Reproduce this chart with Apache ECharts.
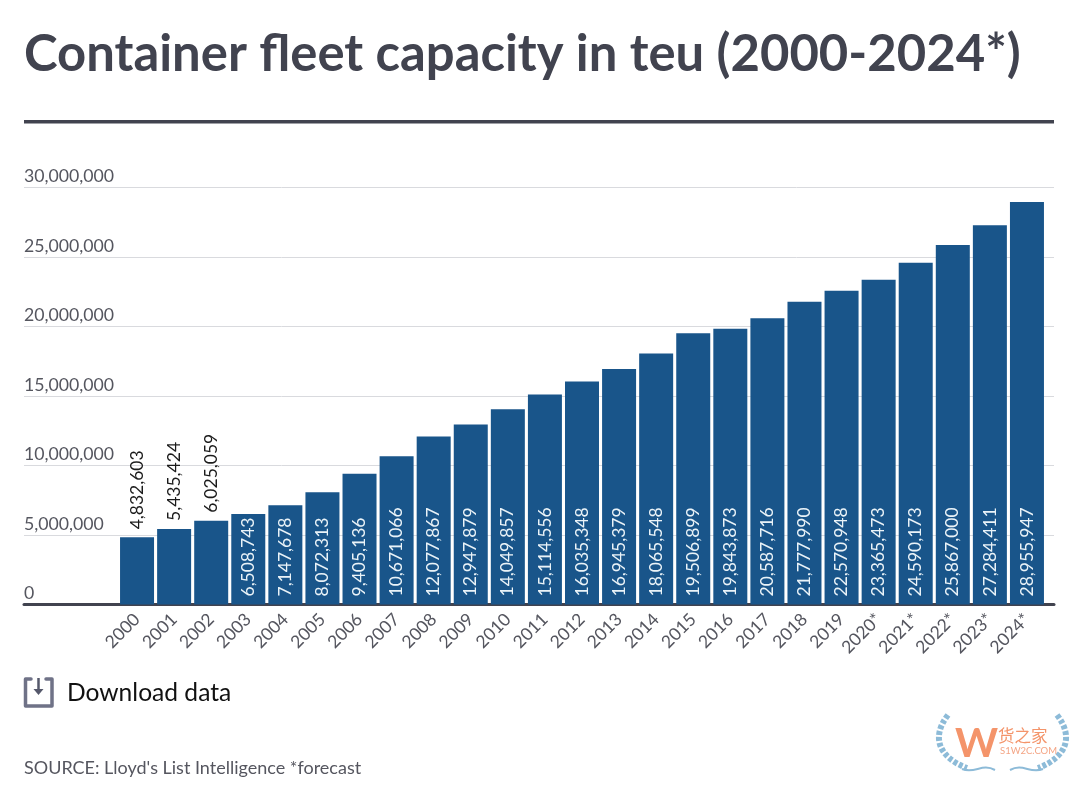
<!DOCTYPE html>
<html>
<head>
<meta charset="utf-8">
<title>Container fleet capacity</title>
<style>
  html, body { margin: 0; padding: 0; background: #fff; }
  #chart { width: 1080px; height: 787px; }
</style>
<script src="https://cdn.jsdelivr.net/npm/echarts@6/dist/echarts.min.js"></script>
</head>
<body>
<div id="chart"></div>
<script>
const years = ['2000', '2001', '2002', '2003', '2004', '2005', '2006', '2007', '2008', '2009', '2010', '2011', '2012',
  '2013', '2014', '2015', '2016', '2017', '2018', '2019', '2020*', '2021*', '2022*', '2023*', '2024*'];
const capacity = [4832603, 5435424, 6025059, 6508743, 7147678, 8072313, 9405136, 10671066, 12077867, 12947879,
  14049857, 15114556, 16035348, 16945379, 18065548, 19506899, 19843873, 20587716, 21777990, 22570948,
  23365473, 24590173, 25867000, 27284411, 28955947];
const titleText = 'Container fleet capacity in teu (2000-2024*)';
const sourceText = "SOURCE: Lloyd's List Intelligence *forecast";

const FONT = 'Lato';
const INK = '#41434f';
const BAR = '#19558a';

const fmt = (v) => v.toLocaleString('en-US');

// first three bars are too short, their labels go above the bar
const barData = capacity.map((v, i) => ({
  value: v,
  label: i < 3
    ? { position: 'top', color: '#1b1b1b', distance: 8 }
    : { position: 'insideBottom', color: '#eaf3f8', distance: 8 },
}));

const chart = echarts.init(document.getElementById('chart'));
chart.setOption({
  animation: false,
  backgroundColor: '#fff',
  textStyle: { fontFamily: FONT },
  title: {
    text: titleText,
    left: 19,
    top: 24,
    textStyle: { fontFamily: FONT, fontSize: 50.8, fontWeight: 'bold', color: INK },
  },
  // grid 0 carries gridlines and baseline across the full width, grid 1 the bars
  grid: [
    { left: 24, right: 26, top: 187.5, bottom: 182.5, containLabel: false },
    { left: 118.5, right: 34.5, top: 187.5, bottom: 182.5, containLabel: false },
  ],
  xAxis: [
    {
      type: 'category',
      gridIndex: 0,
      data: [''],
      axisLine: { show: true, lineStyle: { color: INK, width: 3 } },
      axisTick: { show: false },
      axisLabel: { show: false },
    },
    {
      type: 'category',
      gridIndex: 1,
      data: years,
      axisLine: { show: false },
      axisTick: { show: false },
      axisLabel: { rotate: 45, interval: 0, margin: 12, fontSize: 17.5, color: '#55565f', fontFamily: FONT },
    },
  ],
  yAxis: [
    {
      type: 'value',
      gridIndex: 0,
      min: 0,
      max: 30000000,
      interval: 5000000,
      axisLine: { show: false },
      axisTick: { show: false },
      splitLine: { lineStyle: { color: '#d9dade', width: 1 } },
      axisLabel: {
        inside: true,
        margin: 0,
        verticalAlign: 'bottom',
        padding: [0, 0, 2, 0],
        fontSize: 17.7,
        color: '#55565f',
        fontFamily: FONT,
        formatter: (v) => fmt(v),
      },
    },
    {
      type: 'value',
      gridIndex: 1,
      min: 0,
      max: 30000000,
      interval: 5000000,
      axisLine: { show: false },
      axisTick: { show: false },
      splitLine: { show: false },
      axisLabel: { show: false },
    },
  ],
  series: [
    {
      type: 'bar',
      xAxisIndex: 1,
      yAxisIndex: 1,
      data: barData,
      barWidth: 34,
      z: 5,
      itemStyle: { color: BAR },
      label: {
        show: true,
        rotate: 90,
        align: 'left',
        verticalAlign: 'middle',
        fontSize: 17.5,
        fontFamily: FONT,
        formatter: (p) => fmt(p.value),
      },
    },
  ],
  graphic: [
    // rule under the title
    { type: 'rect', shape: { x: 24, y: 120, width: 1030, height: 3.5 }, style: { fill: INK } },
    // download icon
    {
      type: 'polyline',
      shape: { points: [[31, 679], [25.5, 679], [25.5, 706], [52, 706], [52, 679], [46, 679]] },
      style: { stroke: '#6f7287', lineWidth: 3.5, fill: null, lineJoin: 'round', lineCap: 'round' },
    },
    { type: 'line', shape: { x1: 38.5, y1: 678, x2: 38.5, y2: 691 }, style: { stroke: '#55586b', lineWidth: 2.5 } },
    { type: 'polygon', shape: { points: [[33.5, 689], [43.5, 689], [38.5, 695]] }, style: { fill: '#55586b' } },
    {
      type: 'text',
      left: 67,
      top: 681,
      style: { text: 'Download data', fontFamily: FONT, fontSize: 24.6, fill: '#111' },
    },
    {
      type: 'text',
      left: 24,
      top: 759,
      style: { text: sourceText, fontFamily: FONT, fontSize: 18, fill: '#55565f' },
    },
    // watermark
    {
      type: 'bezierCurve',
      shape: { x1: 948, y1: 715, cpx1: 930, cpy1: 738, cpx2: 940, cpy2: 758, x2: 967, y2: 768 },
      style: { stroke: '#8dbbd8', lineWidth: 6, lineDash: [4, 2], fill: null },
    },
    {
      type: 'bezierCurve',
      shape: { x1: 1057, y1: 715, cpx1: 1075, cpy1: 738, cpx2: 1065, cpy2: 758, x2: 1038, y2: 768 },
      style: { stroke: '#8dbbd8', lineWidth: 6, lineDash: [4, 2], fill: null },
    },
    {
      type: 'bezierCurve',
      shape: { x1: 962, y1: 769, cpx1: 975, cpy1: 774, cpx2: 982, cpy2: 763, x2: 995, y2: 770 },
      style: { stroke: '#8dbbd8', lineWidth: 2, fill: null },
    },
    {
      type: 'bezierCurve',
      shape: { x1: 1043, y1: 769, cpx1: 1030, cpy1: 774, cpx2: 1023, cpy2: 763, x2: 1010, y2: 770 },
      style: { stroke: '#8dbbd8', lineWidth: 2, fill: null },
    },
    {
      type: 'text',
      left: 955,
      top: 723,
      style: { text: 'W', fontFamily: FONT, fontWeight: 'bold', fontSize: 41, fill: '#f4946a' },
    },
    {
      type: 'text',
      left: 998,
      top: 727,
      style: { text: '货之家', fontFamily: 'Noto Sans CJK SC', fontSize: 16.5, fill: '#f4946a' },
    },
    {
      type: 'text',
      left: 1000,
      top: 746,
      style: { text: 'S1W2C.COM', fontFamily: FONT, fontSize: 9.5, fill: '#f4a585' },
    },
  ],
});
</script>
</body>
</html>
